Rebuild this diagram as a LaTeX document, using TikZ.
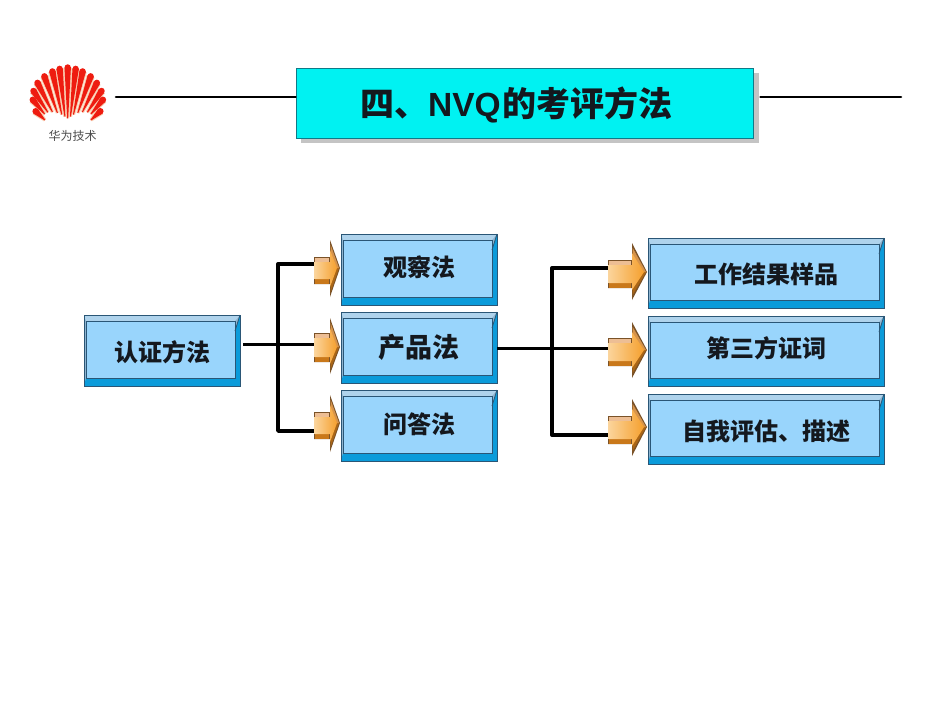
\documentclass[tikz,border=0pt]{standalone}
\usepackage{fontspec}
\usetikzlibrary{calc}
\newfontfamily\cjk{Noto Sans CJK SC}
\newfontfamily\lat{Liberation Sans}
\definecolor{faceblue}{HTML}{99D5FC}
\definecolor{bandlight}{HTML}{AFD3EC}
\definecolor{bandleft}{HTML}{8FB4CF}
\definecolor{banddark}{HTML}{0B9BDA}
\definecolor{edgeblue}{HTML}{2A5676}
\definecolor{titlecyan}{HTML}{00F2F2}
\definecolor{titleedge}{HTML}{0F7A88}
\definecolor{shadowgray}{HTML}{C4C4C4}
\definecolor{logored}{HTML}{EE1C10}
\definecolor{logotip}{HTML}{F9CDB0}
\definecolor{arrowlight}{HTML}{FBD49B}
\definecolor{arroworange}{HTML}{F5A02E}
\definecolor{arrowpeach}{HTML}{EDBE94}
\definecolor{arrowdark}{HTML}{C9781A}
\definecolor{arrowedge}{HTML}{7A5228}
\definecolor{inktext}{HTML}{14181E}
\tikzset{
  boxnode/.style={draw=none,inner sep=0pt,text=inktext,font=\cjk\bfseries\fontsize{24}{24}\selectfont},
  rule/.style={black,line width=2.6pt,line cap=round},
  branch/.style={black,line width=3.4pt,line join=round},
  tail/.style={inner sep=0pt,outer sep=0pt,minimum width=0pt,minimum height=0pt},
}
% name, x1, y1, x2, y2, shift up, text
\newcommand{\bevelbox}[7]{%
  \fill[bandleft] (#2,#3) rectangle (#4,#5);
  \fill[bandlight] (#2,#3) -- (#4,#3) -- (#4-5,#3+6) -- (#2+2,#3+6) -- cycle;
  \fill[banddark] (#4,#3) -- (#4,#5) -- (#2,#5) -- (#2+2,#5-8) -- (#4-5,#5-8) -- (#4-5,#3+16) -- cycle;
  \fill[faceblue] (#2+2,#3+6) rectangle (#4-5,#5-8);
  \draw[edgeblue,line width=1pt] (#2+2,#5-8) -- (#2+2,#3+6) -- (#4-5,#3+6) -- (#4-5,#5-8) -- cycle;
  \draw[edgeblue,line width=.8pt] (#4,#3) -- (#4-5,#3+16);
  \draw[edgeblue,line width=.9pt] (#2,#3) rectangle (#4,#5);
  \node[boxnode,minimum width=#4pt-#2pt,minimum height=#5pt-#3pt] (#1) at ({(#2+#4)/2},{(#3+#5)/2}) {\raisebox{\dimexpr #6pt-9pt\relax}[0pt][0pt]{#7}};
}
% x0, xh, xt, yc, body top, body bottom, head top, head bottom
\newcommand{\blockarrow}[8]{%
  \fill[arrowedge] (#1,#5) -- (#2,#5) -- (#2,#7) -- (#3,#4) -- (#2,#8) -- (#2,#6) -- (#1,#6) -- cycle;
  \fill[arrowpeach] (#1+.5,#5+.5) -- (#2-1,#5+.5) -- (#2-1,#5+5) -- (#1+.5,#5+5) -- cycle;
  \fill[arrowdark] (#1+.5,#6-.5) -- (#2-1,#6-.5) -- (#2-1,#6-5) -- (#1+.5,#6-5) -- cycle;
  \fill[arrowdark!85!black] (#2+.7,#8-5) -- (#3-1,#4) -- (#3-5,#4) -- (#2+.7,#6-5) -- cycle;
  \fill[arrowdark!60!arrowpeach] (#2+.7,#7+5) -- (#3-1,#4) -- (#3-5,#4) -- (#2+.7,#5+5) -- cycle;
  \shade[left color=arrowlight,right color=arroworange] (#1+.5,#5+5) -- (#2,#5+5) -- (#2,#7+10) -- (#3-3,#4) -- (#2,#8-10) -- (#2,#6-5) -- (#1+.5,#6-5) -- cycle;
}
\begin{document}
\begin{tikzpicture}[x=1pt,y=-1pt]
\useasboundingbox (0,0) rectangle (950,713);
\fill[white] (0,0) rectangle (950,713);

% logo
\coordinate (F) at (67.7,141.7);
\foreach \tx/\ty/\f in {33.3/109/.66,30.7/97.3/.62,31.7/88.3/.55,36/80/.48,43.3/73.3/.42,51.7/68.3/.37,59.3/65.7/.33,67.7/64.3/.30,76/65.7/.33,83.3/68.3/.37,91.7/73.3/.42,98.3/80/.48,103.3/88.3/.55,105/97.3/.62,102.7/109/.66}{
  \coordinate (t) at (\tx,\ty);
  \coordinate (tt) at ($(t)!3.2pt!(F)$);
  \coordinate (b) at ($(F)!\f!(t)$);
  \fill[logotip] ($(b)!1.6pt!90:(tt)$) -- ($(tt)!4.2pt!-90:(b)$) -- ($(tt)!4.2pt!90:(b)$) -- ($(b)!1.6pt!-90:(tt)$) -- cycle;
}
\foreach \tx/\ty/\f in {33.3/109/.66,30.7/97.3/.62,31.7/88.3/.55,36/80/.48,43.3/73.3/.42,51.7/68.3/.37,59.3/65.7/.33,67.7/64.3/.30,76/65.7/.33,83.3/68.3/.37,91.7/73.3/.42,98.3/80/.48,103.3/88.3/.55,105/97.3/.62,102.7/109/.66}{
  \coordinate (t) at (\tx,\ty);
  \coordinate (tt) at ($(t)!3.2pt!(F)$);
  \coordinate (b) at ($(F)!\f!(t)$);
  \fill[logored] ($(b)!.45pt!90:(tt)$) -- ($(tt)!3.2pt!-90:(b)$) -- ($(tt)!3.2pt!90:(b)$) -- ($(b)!.45pt!-90:(tt)$) -- cycle;
  \fill[logored] (tt) circle (3.2);
}
\node[inner sep=0pt,text=black!70,font=\cjk\fontsize{12}{12}\selectfont] (logotext) at (72.5,136) {华为技术};

% title
\fill[shadowgray] (301,73) rectangle (758.5,143);
\node[draw=titleedge,line width=1pt,fill=titlecyan,minimum width=457pt,minimum height=70pt,inner sep=0pt,text=inktext] (title) at (524.5,103)
  {\hspace*{-16pt}\raisebox{-13pt}[0pt][0pt]{\cjk\bfseries\fontsize{34}{34}\selectfont 四、\lat\bfseries\fontsize{33.5}{33.5}\selectfont NVQ\hspace{2pt}\cjk\bfseries\fontsize{34}{34}\selectfont 的考评方法}};
\coordinate (ruleL) at (116,97);
\coordinate (ruleR) at (901,97);
\draw[rule] (ruleL) -- (ruleL -| title.west);
\draw[rule,shorten <=7pt] (ruleR -| title.east) -- (ruleR);

% tails of the block arrows, at the height of the lines
\node[tail] (tl1) at (315,264) {};
\node[tail] (tl2) at (315,344.5) {};
\node[tail] (tl3) at (315,431) {};
\node[tail] (tr1) at (609,268) {};
\node[tail] (tr2) at (609,348.5) {};
\node[tail] (tr3) at (609,435) {};
\coordinate (jl) at (278,344.5);
\coordinate (jr) at (552,348.5);

% boxes
\bevelbox{src}{84}{315}{240}{386}{-1.5}{认证方法}
\bevelbox{m1}{341}{234}{497}{305}{2.5}{观察法}
\bevelbox{m2}{341}{312}{497}{383}{-0.8}{\fontsize{27}{27}\selectfont 产品法}
\bevelbox{m3}{341}{390}{497}{461}{1.5}{问答法}
\bevelbox{r1}{648}{238}{884}{308}{-1}{工作结果样品}
\bevelbox{r2}{648}{316}{884}{386}{3}{第三方证词}
\bevelbox{r3}{648}{394}{884}{464}{-2}{自我评估、描述}

% connectors
\draw[black,line width=2.4pt,shorten <=3pt] (src.east |- tl2) -- (tl2);
\draw[branch] (tl1) -| (jl) |- (tl3);
\draw[black,line width=2.6pt] (m2.east |- tr2) -- (tr2);
\draw[branch] (tr1) -| (jr) |- (tr3);

% block arrows
\blockarrow{314}{330}{340}{268}{257}{284}{240}{297}
\blockarrow{314}{330}{340}{347}{333}{362}{318}{374}
\blockarrow{314}{330}{340}{423}{412}{439}{395}{452}
\blockarrow{608}{632}{647}{272}{260}{288}{243}{300}
\blockarrow{608}{632}{647}{350}{338}{366}{322}{378}
\blockarrow{608}{632}{647}{427}{416}{444}{399}{456}
\end{tikzpicture}
\end{document}
